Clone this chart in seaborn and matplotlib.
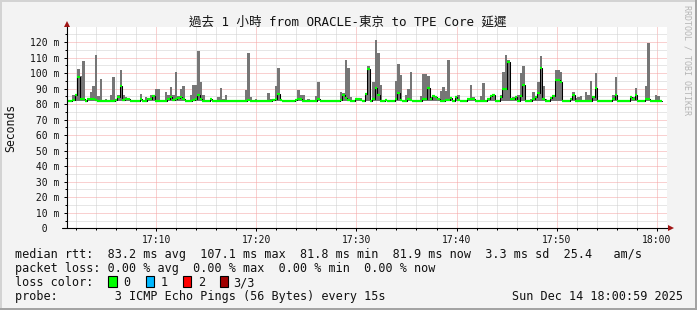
import numpy as np
import pandas as pd
import matplotlib
matplotlib.use("Agg")
import matplotlib.pyplot as plt
import seaborn as sns
from matplotlib.patches import Rectangle
from matplotlib.ticker import MultipleLocator, FixedLocator

# ---------------- data ----------------
start_min = 1.08      # minutes after 17:00 of the first sample
step_min = 0.25       # one sample every 15 s
rtt_low = 81.8        # lowest ping (bottom of the smoke)

rtt_max = [
    82, 82, 86, 86, 102.6, 98, 107.5, 82, 83.4, 87.5, 91.4, 111.4, 85, 95.9, 82, 83, 82, 85.7, 97.2, 83.4,
    86, 101.9, 85.7, 84.5, 83.4, 82, 82, 82, 82, 86.5, 82, 84.5, 83.4, 86, 85, 89.5, 89.5, 82, 82, 87.5,
    86, 90.8, 86, 101, 85, 89.5, 91.6, 82, 82, 85.6, 92.3, 92.3, 114, 94.2, 86, 82, 82, 83.5, 82, 82,
    84.5, 90.1, 83, 85.6, 82, 82, 82, 82, 82, 82, 82, 88.8, 112.7, 84.3, 82, 83, 82, 82, 82, 82,
    87, 83, 83.5, 91.6, 103.2, 83, 82, 82, 82, 82, 82, 83, 88.8, 86, 86, 82, 83, 82, 82, 85,
    94, 82, 82, 82, 82, 82, 82, 82, 82, 87.7, 87, 108.2, 103.2, 84.3, 82, 84, 84, 84, 82, 87,
    104.3, 82, 94, 121, 112.7, 92.3, 82, 83, 82, 82, 82, 94.6, 106, 98.5, 82, 85.6, 90, 100.4, 82, 82,
    82, 85, 99.1, 99.1, 98, 84.3, 85.5, 85, 83.4, 88.2, 91.2, 88.2, 108.4, 84.3, 82, 85, 85.6, 82, 82, 82,
    84, 92.3, 84.3, 82, 82, 85, 93.3, 82, 83.4, 85, 86.5, 82, 82, 85.6, 100.6, 111.4, 108.5, 83, 84.3, 85,
    85.6, 99.8, 104.3, 82, 82, 83.4, 87.5, 85, 94.2, 110.8, 91.4, 83, 82, 84, 85, 101.7, 101.7, 101, 82, 82,
    82, 83, 87.7, 84, 84.5, 85, 82, 87.7, 85.6, 94.6, 85, 100, 82, 82, 82, 82, 82, 82, 85.6, 97.2,
    82, 82, 82, 82, 82, 85, 84.3, 90.1, 82, 82, 82, 91.4, 119.6, 82, 82, 86, 85, 82,
]

rtt_median = [
    82, 82, 82.5, 85.7, 97.2, 83.5, 83.5, 82, 83, 83, 83, 82.5, 82, 82, 82, 82, 82, 82, 82, 82.5,
    84.3, 91.6, 82.5, 83, 83.4, 82, 82, 82, 82, 83.4, 82, 82, 83, 83.5, 85, 82, 82, 82, 82, 82,
    83.4, 84.3, 82.5, 83, 84, 84.5, 83, 82, 82, 82, 82.5, 83, 85.6, 83.4, 82, 82, 82, 83.4, 82, 82,
    82, 82, 82, 82, 82, 82, 82, 82, 82, 82, 82, 82, 82.5, 82, 82, 82, 82, 82, 82, 82,
    82, 82, 82.5, 83, 86.5, 82.5, 82, 82, 82, 82, 82, 82.5, 83, 83, 82, 82, 82, 82, 82, 82,
    83.4, 82, 82, 82, 82, 82, 82, 82, 82, 82.5, 86, 84, 82.5, 82, 82, 83.5, 83.4, 82.5, 82, 86.5,
    102.4, 82, 83.5, 90.5, 86, 82, 82, 82.5, 82, 82, 82, 83.4, 87, 82.5, 82, 82, 83, 82.5, 82, 82,
    82, 82, 83, 83, 90.5, 83.4, 85, 84.3, 83.4, 82, 82, 82.5, 82.5, 84, 82, 84.3, 82.5, 82, 82, 82,
    83.5, 83, 83, 82, 82, 82, 82, 82, 83.4, 85, 86, 82, 82, 84.3, 89.5, 89.5, 107.1, 83, 83.4, 84.3,
    82, 85, 92.3, 82, 82, 82, 83.4, 84.3, 87, 103.4, 83.4, 82, 82, 83.8, 85, 95.7, 95.7, 94.2, 82, 82,
    82, 83, 85.6, 82, 82, 82, 82, 82, 82, 82, 84.3, 90.1, 82, 82, 82, 82, 82, 82, 83.4, 86,
    82, 82, 82, 82, 82, 84.3, 83, 85.6, 82, 82, 82, 83, 83, 82, 82, 82, 82, 81.9,
]

x_ticks = [10, 20, 30, 40, 50, 60]
x_labels = ["17:10", "17:20", "17:30", "17:40", "17:50", "18:00"]
y_ticks = [0, 10, 20, 30, 40, 50, 60, 70, 80, 90, 100, 110, 120]
y_labels = ["  0", " 10 m", " 20 m", " 30 m", " 40 m", " 50 m", " 60 m",
            " 70 m", " 80 m", " 90 m", "100 m", "110 m", "120 m"]

title = "過去 1 小時 from ORACLE-東京 to TPE Core 延遲"
line_rtt = "median rtt:  83.2 ms avg  107.1 ms max  81.8 ms min  81.9 ms now  3.3 ms sd  25.4   am/s"
line_loss = "packet loss: 0.00 % avg  0.00 % max  0.00 % min  0.00 % now"
loss_names = ["0", "1", "2", "3/3"]
loss_colors = ["#00ff00", "#00b8ff", "#ff0000", "#a00000"]
line_probe = "probe:        3 ICMP Echo Pings (56 Bytes) every 15s"
stamp = "Sun Dec 14 18:00:59 2025"

# ---------------- style ----------------
sns.set_style("white")
MONO = ["DejaVu Sans Mono", "Noto Sans CJK TC"]
plt.rcParams["font.family"] = MONO

W, H = 697, 310
fig = plt.figure(figsize=(W / 100, H / 100), dpi=100, facecolor="#f3f3f3")
ax_l, ax_r, ax_t, ax_b = 67, 667, 27.3, 228.3
ax = fig.add_axes([ax_l / W, 1 - ax_b / H, (ax_r - ax_l) / W, (ax_b - ax_t) / H])
ax.set_facecolor("white")

df = pd.DataFrame({
    "t": start_min + step_min * np.arange(len(rtt_max)),
    "max": rtt_max,
    "median": rtt_median,
})

# smoke
ax.bar(df["t"], df["max"] - rtt_low, bottom=rtt_low, width=step_min, align="edge",
       color="#767676", linewidth=0, zorder=2)

# median: black step line + green horizontal segments
step_df = pd.DataFrame({
    "t": np.append(df["t"].values, df["t"].values[-1] + step_min),
    "median": np.append(df["median"].values, df["median"].values[-1]),
})
sns.lineplot(data=step_df, x="t", y="median", drawstyle="steps-post", color="black",
             linewidth=0.75, ax=ax, zorder=3)
ax.hlines(df["median"], df["t"], df["t"] + step_min, colors="#00ff00", linewidth=1.6,
          zorder=4, capstyle="butt")

ax.set_xlim(1.08, 61.03)
ax.set_ylim(0, 129.5)
ax.set_xlabel("")
ax.set_ylabel("")

ax.xaxis.set_major_locator(FixedLocator(x_ticks))
ax.xaxis.set_minor_locator(MultipleLocator(2))
ax.set_xticklabels(x_labels)
ax.yaxis.set_major_locator(FixedLocator(y_ticks))
ax.yaxis.set_minor_locator(MultipleLocator(5))
ax.set_yticklabels(y_labels, ha="left")

dot = (0, (1, 1))
ax.grid(which="major", color="#f5a3a3", linestyle=dot, linewidth=0.72, zorder=0)
ax.grid(which="minor", color="#cfcfcf", linestyle=dot, linewidth=0.72, zorder=0)
ax.set_axisbelow(True)

for s in ax.spines.values():
    s.set_visible(False)

ax.tick_params(which="major", length=2.2, width=0.72, color="black", direction="out",
               labelsize=7, labelcolor="#111111", bottom=True, left=True)
ax.tick_params(which="minor", length=1.4, width=0.72, color="black", direction="out",
               bottom=True, left=True)
ax.tick_params(axis="x", which="major", pad=2.6)
ax.tick_params(axis="y", which="major", pad=(ax_l - 3 - 29.7) * 0.72)

# axis lines with arrows
hgt = ax_b - ax_t
wid = ax_r - ax_l
ax.plot([0, 0], [0, (ax_b - 23) / hgt], transform=ax.transAxes, color="black",
        lw=0.8, clip_on=False, zorder=5)
ax.plot([(62 - ax_l) / wid, (671 - ax_l) / wid], [0, 0], transform=ax.transAxes,
        color="black", lw=0.8, clip_on=False, zorder=5)
ax.plot([0], [(ax_b - 24) / hgt], marker="^", ms=3.8, color="#a01515",
        transform=ax.transAxes, clip_on=False, zorder=6, mew=0)
ax.plot([(671 - ax_l) / wid], [0], marker=">", ms=3.8, color="#a01515",
        transform=ax.transAxes, clip_on=False, zorder=6, mew=0)

# ---------------- texts ----------------
def fx(x):
    return x / W

def fy(y):
    return 1 - y / H

fig.text(fx(347.5), fy(26), title, ha="center", va="baseline", fontsize=9,
         family=MONO, color="#111111")
fig.text(fx(10.5), fy(127.7), "Seconds", rotation=90, ha="center", va="center",
         fontsize=8.3, family=MONO, color="#111111")
fig.text(fx(687), fy(5), "RRDTOOL / TOBI OETIKER", rotation=270, ha="center", va="top",
         fontsize=6, family=MONO, color="#b5b5b5")

x0 = 15.4
fs = 8.5
fig.text(fx(x0), fy(258.3), line_rtt, ha="left", va="baseline", fontsize=fs, family=MONO, color="#111111")
fig.text(fx(x0), fy(272.3), line_loss, ha="left", va="baseline", fontsize=fs, family=MONO, color="#111111")
fig.text(fx(x0), fy(286.3), "loss color:", ha="left", va="baseline", fontsize=fs, family=MONO, color="#111111")
fig.text(fx(x0), fy(300.3), line_probe, ha="left", va="baseline", fontsize=fs, family=MONO, color="#111111")
fig.text(fx(512.3), fy(300.3), stamp, ha="left", va="baseline", fontsize=fs, family=MONO, color="#111111")

box_x = [108, 145.5, 182.5, 219.5]
lab_x = [123.4, 161.0, 198.3, 233.4]
for bx, lx, name, col in zip(box_x, lab_x, loss_names, loss_colors):
    fig.patches.append(Rectangle((fx(bx), fy(286.5)), 8.5 / W, 10.5 / H, transform=fig.transFigure,
                                 facecolor=col, edgecolor="black", linewidth=0.8))
    fig.text(fx(lx), fy(286.3), name, ha="left", va="baseline", fontsize=fs, family=MONO, color="#111111")

# frame
fig.patches.append(Rectangle((0, 1 - 2 / H), 1, 2 / H, transform=fig.transFigure, facecolor="#d3d3d3", lw=0))
fig.patches.append(Rectangle((0, 0), 2 / W, 1, transform=fig.transFigure, facecolor="#d3d3d3", lw=0))
fig.patches.append(Rectangle((0, 0), 1, 2 / H, transform=fig.transFigure, facecolor="#a3a3a3", lw=0))
fig.patches.append(Rectangle((1 - 2 / W, 0), 2 / W, 1, transform=fig.transFigure, facecolor="#a3a3a3", lw=0))

fig.savefig("out.png", dpi=100, facecolor=fig.get_facecolor())
